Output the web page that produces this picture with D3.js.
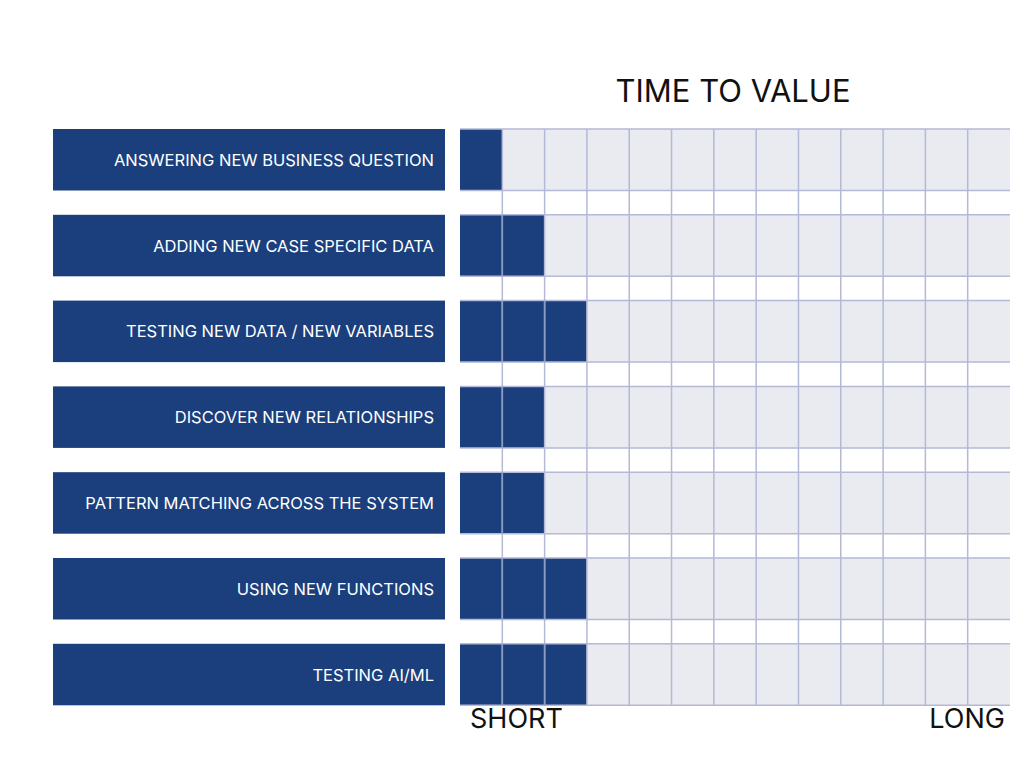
<!DOCTYPE html>
<html><head><meta charset="utf-8">
<script src="https://cdn.jsdelivr.net/npm/d3@7"></script>
<style>body{margin:0;background:#fff}</style>
</head><body>
<script>
const tasks = [
  "ANSWERING NEW BUSINESS QUESTION",
  "ADDING NEW CASE SPECIFIC DATA",
  "TESTING NEW DATA / NEW VARIABLES",
  "DISCOVER NEW RELATIONSHIPS",
  "PATTERN MATCHING ACROSS THE SYSTEM",
  "USING NEW FUNCTIONS",
  "TESTING AI/ML"
];
const timeUnits = [1, 2, 3, 2, 2, 3, 3];
const nCols = 13;
const axisLabels = ["SHORT", "LONG"];

const blue = "#1b3f7d", cellBg = "#e9ebf1", gridC = "#b3b9d6";
const font = "Inter, 'Noto Sans', sans-serif";

const svg = d3.select("body").append("svg").attr("width", 1024).attr("height", 765);

const x = d3.scaleLinear().domain([0, nCols]).range([460, 1010]);
const y = d3.scaleBand().domain(d3.range(tasks.length)).range([129, 682 + 23.3]).paddingInner(0.283).paddingOuter(0).align(0);
const rowH = y.bandwidth();

// label bars
const lab = svg.append("g");
lab.selectAll("rect").data(tasks).join("rect")
  .attr("x", 53).attr("width", 392)
  .attr("y", (d, i) => y(i)).attr("height", rowH).attr("fill", blue);
lab.selectAll("text").data(tasks).join("text")
  .attr("x", 434).attr("y", (d, i) => y(i) + rowH / 2 + 6)
  .attr("text-anchor", "end").attr("fill", "#fff")
  .attr("font-family", font).attr("font-size", 16.5).text(d => d);

// grid rows background
svg.selectAll(".bg").data(tasks).join("rect").attr("class", "bg")
  .attr("x", x(0)).attr("width", x(nCols) - x(0))
  .attr("y", (d, i) => y(i)).attr("height", rowH).attr("fill", cellBg);

// filled cells
svg.selectAll(".fill").data(timeUnits).join("rect").attr("class", "fill")
  .attr("x", x(0)).attr("width", d => x(d) - x(0))
  .attr("y", (d, i) => y(i)).attr("height", rowH).attr("fill", blue);

// vertical grid lines
const gridTop = y(0), gridBottom = y(tasks.length - 1) + rowH;
svg.selectAll(".vl").data(d3.range(1, nCols)).join("line").attr("class", "vl")
  .attr("x1", d => x(d)).attr("x2", d => x(d))
  .attr("y1", gridTop).attr("y2", gridBottom)
  .attr("stroke", gridC).attr("stroke-width", 1.5);
// horizontal lines at row edges
const edges = tasks.flatMap((d, i) => [y(i), y(i) + rowH]);
svg.selectAll(".hl").data(edges).join("line").attr("class", "hl")
  .attr("x1", x(0)).attr("x2", x(nCols))
  .attr("y1", d => d).attr("y2", d => d)
  .attr("stroke", gridC).attr("stroke-width", 1.5);
// separators inside blue cells
svg.selectAll(".bl").data(tasks).join("g").each(function(d, i) {
  d3.select(this).selectAll("line").data(d3.range(1, timeUnits[i])).join("line")
    .attr("x1", c => x(c)).attr("x2", c => x(c))
    .attr("y1", y(i)).attr("y2", y(i) + rowH)
    .attr("stroke", "#8a9ac0").attr("stroke-width", 1.5);
});

svg.append("text").attr("x", 733).attr("y", 102).attr("text-anchor", "middle")
  .attr("font-family", font).attr("font-size", 31).attr("fill", "#111").text("TIME TO VALUE");
svg.append("text").attr("x", 470).attr("y", 728)
  .attr("font-family", font).attr("font-size", 27).attr("fill", "#111").text(axisLabels[0]);
svg.append("text").attr("x", 1005).attr("y", 728).attr("text-anchor", "end")
  .attr("font-family", font).attr("font-size", 27).attr("fill", "#111").text(axisLabels[1]);
</script>
</body></html>
